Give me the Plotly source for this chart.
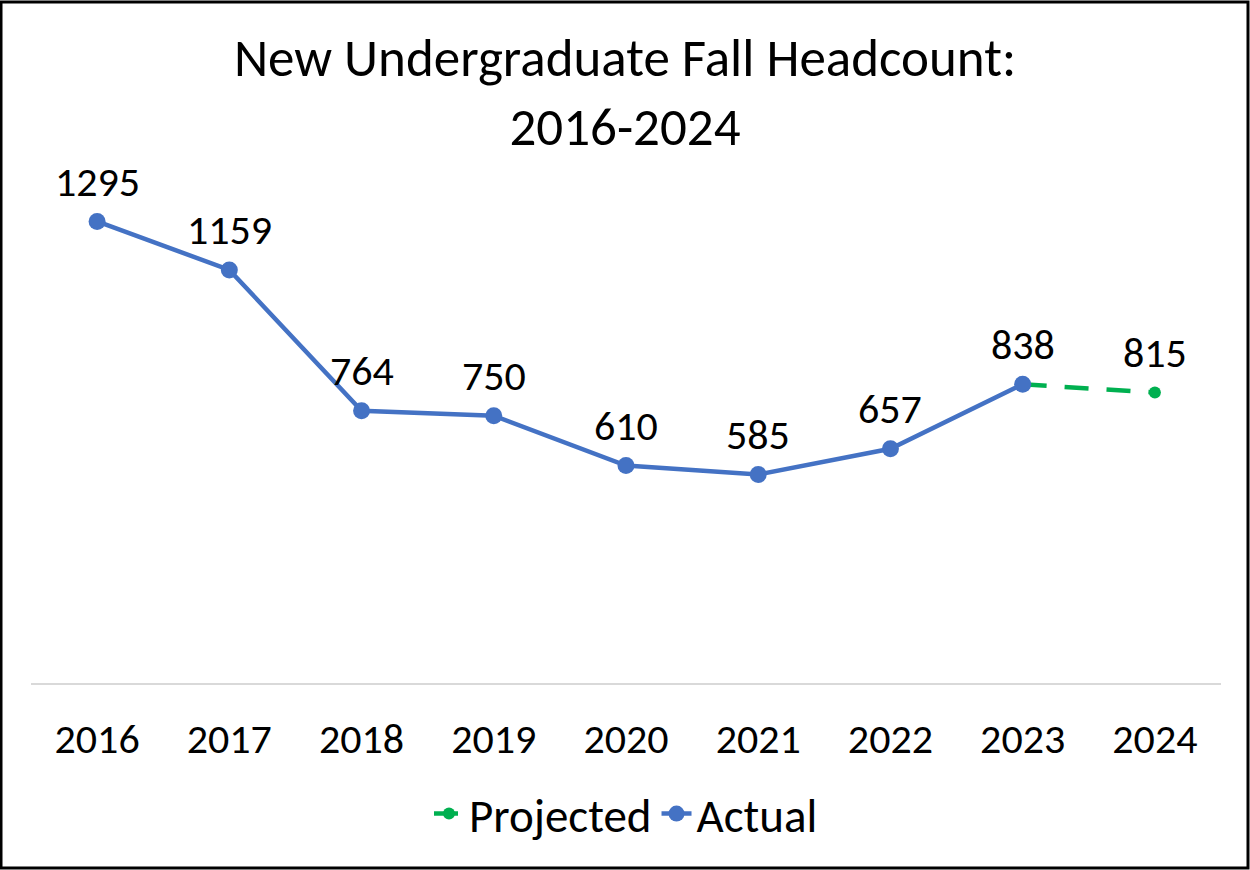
import plotly.graph_objects as go

years = ["2016", "2017", "2018", "2019", "2020", "2021", "2022", "2023", "2024"]
actual = [1295, 1159, 764, 750, 610, 585, 657, 838, None]
projected = [None, None, None, None, None, None, None, 838, 815]
label_values = [1295, 1159, 764, 750, 610, 585, 657, 838, 815]

W, H = 1250, 870
ML, MR, MT, MB = 31, 29, 184, 187
PW, PH = W - ML - MR, H - MT - MB

FONT = "Carlito, Calibri, Lato, sans-serif"

fig = go.Figure()
fig.add_trace(go.Scatter(
    x=years, y=projected, name="Projected", mode="lines+markers",
    line=dict(color="#00B050", width=4.5, dash="24px,18px"),
    marker=dict(color="#00B050", size=12),
    legendrank=1, connectgaps=False,
))
fig.add_trace(go.Scatter(
    x=years, y=actual, name="Actual", mode="lines+markers",
    line=dict(color="#4472C4", width=4.5),
    marker=dict(color="#4472C4", size=17),
    legendrank=2, connectgaps=False,
))

for i, v in enumerate(label_values):
    fig.add_annotation(x=i, y=v, text=str(v), showarrow=False, yshift=40,
                       font=dict(family=FONT, size=42, color="black"))

x0p = (1 - ML) / PW
x1p = (1248 - ML) / PW
y0p = (MT + PH - 868) / PH
y1p = (MT + PH - 2) / PH
fig.add_shape(type="rect", xref="paper", yref="paper", x0=x0p, x1=x1p, y0=y0p, y1=y1p,
              line=dict(color="black", width=3), layer="above")

fig.update_layout(
    width=W, height=H,
    margin=dict(l=ML, r=MR, t=MT, b=MB),
    paper_bgcolor="white", plot_bgcolor="white",
    title=dict(text="New Undergraduate Fall Headcount:<br>2016-2024",
               x=0.5, xanchor="center", y=1 - 76 / H, yanchor="middle",
               font=dict(family=FONT, size=53, color="black")),
    font=dict(family=FONT, color="black"),
    xaxis=dict(type="category", range=[-0.5, len(years) - 0.5], showgrid=False,
               showline=True, linecolor="#D9D9D9",
               linewidth=2, ticks="", ticklabelstandoff=18,
               tickfont=dict(family=FONT, size=42, color="black")),
    yaxis=dict(range=[0, 1400], visible=False, showgrid=False, zeroline=False),
    legend=dict(orientation="h", x=0.5, xanchor="center", y=(MT + PH - 814) / PH,
                yanchor="middle", font=dict(family=FONT, size=47, color="black"),
                traceorder="normal"),
    showlegend=True,
)

fig.write_html("out.html", config={"displayModeBar": False},
               post_script="document.body.style.margin='0';")
